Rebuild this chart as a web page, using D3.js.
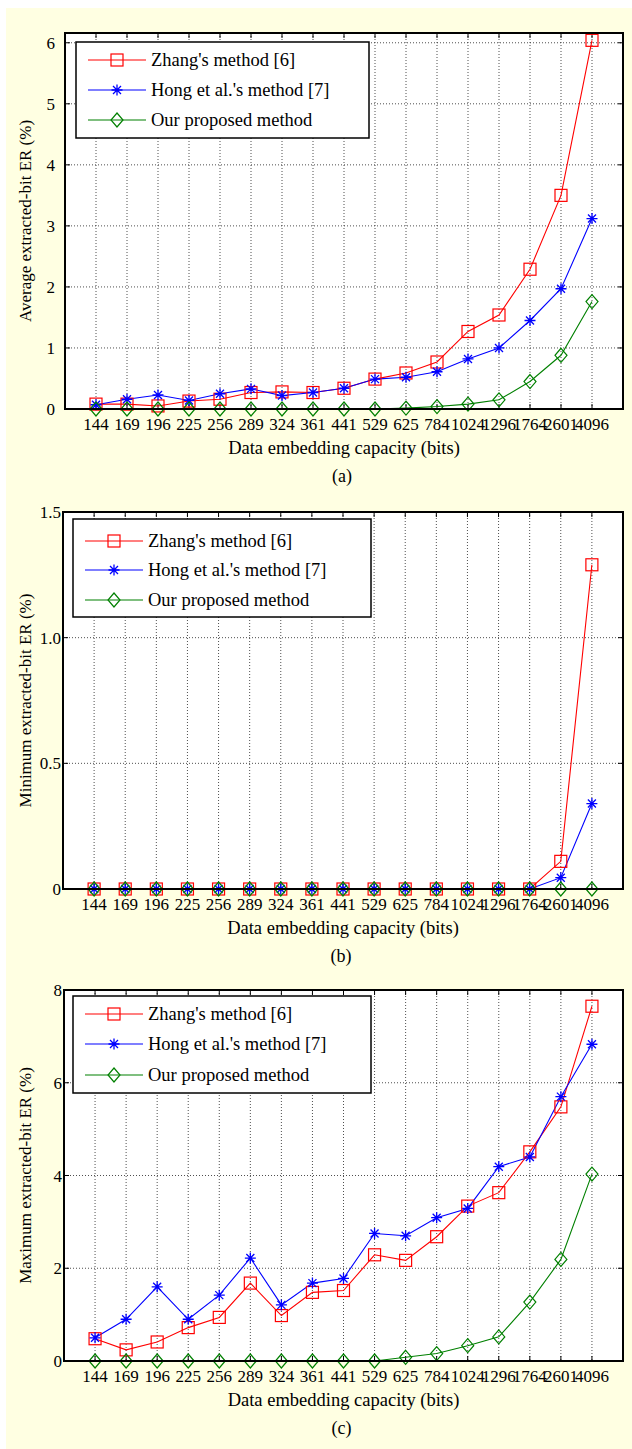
<!DOCTYPE html>
<html>
<head>
<meta charset="utf-8">
<script src="https://cdn.jsdelivr.net/npm/d3@7"></script>
<style>
  body { margin: 0; background: #fff; }
</style>
</head>
<body>
<div id="chart"></div>
<script>

// data embedding capacities (bits)
var capacities = ["144", "169", "196", "225", "256", "289", "324", "361", "441",
  "529", "625", "784", "1024", "1296", "1764", "2601", "4096"];

var seriesNames = ["Zhang's method [6]", "Hong et al.'s method [7]", "Our proposed method"];

// (a) average extracted-bit ER (%)
var avgZhang = [0.08, 0.08, 0.05, 0.13, 0.16, 0.27, 0.28, 0.27, 0.34, 0.49, 0.59, 0.77, 1.27, 1.54, 2.29, 3.5, 6.04];
var avgHong  = [0.07, 0.16, 0.23, 0.14, 0.25, 0.33, 0.22, 0.27, 0.34, 0.49, 0.52, 0.61, 0.82, 1.0, 1.45, 1.97, 3.12];
var avgOurs  = [0, 0, 0, 0, 0, 0, 0, 0, 0, 0, 0.015, 0.04, 0.08, 0.15, 0.45, 0.88, 1.76];

// (b) minimum extracted-bit ER (%)
var minZhang = [0, 0, 0, 0, 0, 0, 0, 0, 0, 0, 0, 0, 0, 0, 0, 0.11, 1.29];
var minHong  = [0, 0, 0, 0, 0, 0, 0, 0, 0, 0, 0, 0, 0, 0, 0, 0.045, 0.34];
var minOurs  = [0, 0, 0, 0, 0, 0, 0, 0, 0, 0, 0, 0, 0, 0, 0, 0, 0];

// (c) maximum extracted-bit ER (%)
var maxZhang = [0.48, 0.24, 0.41, 0.72, 0.94, 1.68, 0.98, 1.48, 1.52, 2.29, 2.17, 2.68, 3.34, 3.63, 4.51, 5.48, 7.65];
var maxHong  = [0.5, 0.9, 1.6, 0.9, 1.42, 2.22, 1.21, 1.68, 1.78, 2.75, 2.7, 3.09, 3.29, 4.19, 4.4, 5.7, 6.83];
var maxOurs  = [0, 0, 0, 0, 0, 0, 0, 0, 0, 0, 0.08, 0.16, 0.33, 0.52, 1.27, 2.19, 4.03];

// y ticks per panel
var ticksA = [0, 1, 2, 3, 4, 5, 6];
var ticksB = [0, 0.5, 1.0, 1.5];
var tickLabelsB = ["0", "0.5", "1.0", "1.5"];
var ticksC = [0, 2, 4, 6, 8];

var colors = ["#ff0000", "#0000ff", "#008000"];
var markers = ["square", "star", "diamond"];

var svgWidth = 632;
var svgHeight = 1449;
var serif = "'Liberation Serif', 'Times New Roman', Times, serif";

var svg = d3.select("#chart")
  .append("svg")
  .attr("width", svgWidth)
  .attr("height", svgHeight)
  .attr("font-family", serif)
  .style("font-family", serif);

// cream page background
svg.append("rect")
  .attr("x", 6)
  .attr("y", 8)
  .attr("width", svgWidth - 6)
  .attr("height", svgHeight - 8)
  .attr("fill", "#ffffe2");

function drawMarker(g, type, x, y, color) {
  if (type === "square") {
    g.append("rect")
      .attr("x", x - 6).attr("y", y - 6)
      .attr("width", 12).attr("height", 12)
      .attr("fill", "none")
      .attr("stroke", color)
      .attr("stroke-width", 1.2);
  } else if (type === "diamond") {
    g.append("path")
      .attr("d", `M${x},${y - 7}L${x + 6},${y}L${x},${y + 7}L${x - 6},${y}Z`)
      .attr("fill", "none")
      .attr("stroke", color)
      .attr("stroke-width", 1.2);
  } else {
    var r = 5.5, d = 4;
    g.append("path")
      .attr("d", `M${x},${y - r}L${x},${y + r}M${x - r},${y}L${x + r},${y}` +
        `M${x - d},${y - d}L${x + d},${y + d}M${x - d},${y + d}L${x + d},${y - d}`)
      .attr("stroke", color)
      .attr("stroke-width", 1.3);
  }
}

function drawPanel(p) {
  var g = svg.append("g");

  var xScale = d3.scalePoint()
    .domain(capacities)
    .range([p.left, p.right])
    .padding(1);

  var yScale = d3.scaleLinear()
    .domain(p.yDomain)
    .range([p.bottom, p.top]);

  // white plot area
  g.append("rect")
    .attr("x", p.left)
    .attr("y", p.top)
    .attr("width", p.right - p.left)
    .attr("height", p.bottom - p.top)
    .attr("fill", "#ffffff");

  // grid lines
  g.selectAll(".vgrid")
    .data(capacities)
    .enter()
    .append("line")
    .attr("x1", d => xScale(d))
    .attr("x2", d => xScale(d))
    .attr("y1", p.top)
    .attr("y2", p.bottom)
    .attr("stroke", "#222")
    .attr("stroke-width", 0.8)
    .attr("stroke-dasharray", "1,2");

  g.selectAll(".hgrid")
    .data(p.ticks.slice(1))
    .enter()
    .append("line")
    .attr("x1", p.left)
    .attr("x2", p.right)
    .attr("y1", d => yScale(d))
    .attr("y2", d => yScale(d))
    .attr("stroke", "#222")
    .attr("stroke-width", 0.8)
    .attr("stroke-dasharray", "1,2");

  // inner tick marks
  capacities.forEach(function(c) {
    g.append("line")
      .attr("x1", xScale(c)).attr("x2", xScale(c))
      .attr("y1", p.bottom).attr("y2", p.bottom - 5)
      .attr("stroke", "#000");
    g.append("line")
      .attr("x1", xScale(c)).attr("x2", xScale(c))
      .attr("y1", p.top).attr("y2", p.top + 5)
      .attr("stroke", "#000");
  });
  p.ticks.forEach(function(t) {
    g.append("line")
      .attr("x1", p.left).attr("x2", p.left + 5)
      .attr("y1", yScale(t)).attr("y2", yScale(t))
      .attr("stroke", "#000");
    g.append("line")
      .attr("x1", p.right).attr("x2", p.right - 5)
      .attr("y1", yScale(t)).attr("y2", yScale(t))
      .attr("stroke", "#000");
  });

  // tick labels
  g.selectAll(".xlab")
    .data(capacities)
    .enter()
    .append("text")
    .attr("x", d => xScale(d))
    .attr("y", p.bottom + 21)
    .attr("text-anchor", "middle")
    .attr("font-size", "17px")
    .text(d => d);

  g.selectAll(".ylab")
    .data(p.ticks)
    .enter()
    .append("text")
    .attr("x", p.left - p.labelGap)
    .attr("y", d => yScale(d) + 6)
    .attr("text-anchor", "end")
    .attr("font-size", "17px")
    .text((d, i) => p.tickLabels ? p.tickLabels[i] : d);

  // axis titles
  g.append("text")
    .attr("x", (p.left + p.right) / 2)
    .attr("y", p.bottom + 45)
    .attr("text-anchor", "middle")
    .attr("font-size", "18.5px")
    .text("Data embedding capacity (bits)");

  g.append("text")
    .attr("transform", `translate(31, ${(p.top + p.bottom) / 2}) rotate(-90)`)
    .attr("text-anchor", "middle")
    .attr("font-size", "17px")
    .text(p.yTitle);

  g.append("text")
    .attr("x", (p.left + p.right) / 2 - 2)
    .attr("y", p.bottom + 73)
    .attr("text-anchor", "middle")
    .attr("font-size", "18px")
    .text(p.caption);

  // series lines and markers
  var line = d3.line()
    .x((d, i) => xScale(capacities[i]))
    .y(d => yScale(d));

  p.series.forEach(function(values, s) {
    g.append("path")
      .datum(values)
      .attr("d", line)
      .attr("fill", "none")
      .attr("stroke", colors[s])
      .attr("stroke-width", 1.1);
  });
  p.series.forEach(function(values, s) {
    values.forEach(function(v, i) {
      drawMarker(g, markers[s], xScale(capacities[i]), yScale(v), colors[s]);
    });
  });

  // plot frame
  g.append("rect")
    .attr("x", p.left)
    .attr("y", p.top)
    .attr("width", p.right - p.left)
    .attr("height", p.bottom - p.top)
    .attr("fill", "none")
    .attr("stroke", "#000")
    .attr("stroke-width", 2);

  // legend
  var lg = g.append("g").attr("transform", `translate(${p.legend.x}, ${p.legend.y})`);
  lg.append("rect")
    .attr("width", p.legend.w)
    .attr("height", p.legend.h)
    .attr("fill", "#ffffff")
    .attr("stroke", "#000")
    .attr("stroke-width", 1.5);
  seriesNames.forEach(function(name, s) {
    var ry = p.legend.rows[s];
    lg.append("line")
      .attr("x1", 12).attr("x2", 70)
      .attr("y1", ry).attr("y2", ry)
      .attr("stroke", colors[s])
      .attr("stroke-width", 1.1);
    drawMarker(lg, markers[s], 41, ry, colors[s]);
    lg.append("text")
      .attr("x", 75)
      .attr("y", ry + 6)
      .attr("font-size", "18.5px")
      .text(name);
  });
}

drawPanel({
  left: 65, right: 623, top: 33, bottom: 409,
  yDomain: [0, 6.16], ticks: ticksA, labelGap: 10,
  yTitle: "Average extracted-bit ER (%)", caption: "(a)",
  series: [avgZhang, avgHong, avgOurs],
  legend: { x: 76, y: 42, w: 293, h: 96, rows: [18, 48, 78] }
});

drawPanel({
  left: 63, right: 623, top: 512, bottom: 889,
  yDomain: [0, 1.5], ticks: ticksB, tickLabels: tickLabelsB, labelGap: 2,
  yTitle: "Minimum extracted-bit ER (%)", caption: "(b)",
  series: [minZhang, minHong, minOurs],
  legend: { x: 73, y: 519, w: 298, h: 98, rows: [22, 51, 81] }
});

drawPanel({
  left: 64, right: 623, top: 990, bottom: 1361,
  yDomain: [0, 8], ticks: ticksC, labelGap: 2,
  yTitle: "Maximum extracted-bit ER (%)", caption: "(c)",
  series: [maxZhang, maxHong, maxOurs],
  legend: { x: 73, y: 996, w: 298, h: 97, rows: [18, 48, 79] }
});

</script>
</body>
</html>
